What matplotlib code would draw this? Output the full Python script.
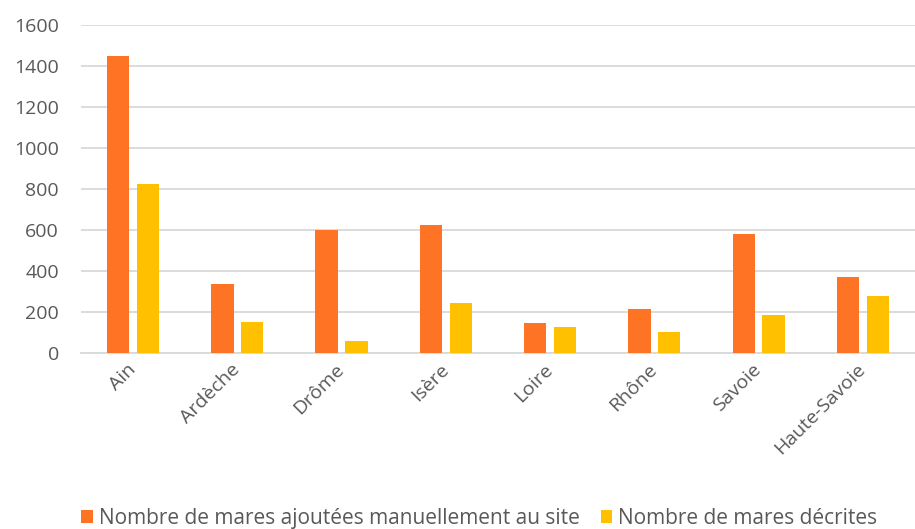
import matplotlib.pyplot as plt
import numpy as np

plt.rcParams['font.family'] = ['Open Sans', 'DejaVu Sans']

departements = ["Ain", "Ardèche", "Drôme", "Isère", "Loire", "Rhône", "Savoie", "Haute-Savoie"]
mares_ajoutees = [1450, 335, 600, 625, 148, 215, 578, 372]
mares_decrites = [825, 150, 60, 245, 128, 100, 187, 275]
serie_noms = ["Nombre de mares ajoutées manuellement au site", "Nombre de mares décrites"]

ORANGE = "#FF7424"
JAUNE = "#FFC000"
GRIS = "#595959"

fig = plt.figure(figsize=(9.15, 5.29), dpi=100)
ax = fig.add_axes([0.0885, 0.333, 0.9115, 0.62])

x = np.arange(len(departements))
w = 0.215
ax.bar(x - 0.143, mares_ajoutees, w, color=ORANGE, label=serie_noms[0], zorder=3)
ax.bar(x + 0.143, mares_decrites, w, color=JAUNE, label=serie_noms[1], zorder=3)

ax.set_xlim(-0.5, len(departements) - 0.5)
ax.set_ylim(0, 1600)
ax.set_yticks(range(0, 1601, 200))
ax.grid(axis='y', color='#d9d9d9', linewidth=1.3, zorder=0)
for s in ['top', 'right', 'left']:
    ax.spines[s].set_visible(False)
ax.spines['bottom'].set_color('#d9d9d9')
ax.spines['bottom'].set_linewidth(1.3)
ax.tick_params(length=0, colors=GRIS, labelsize=14)
ax.tick_params(axis='y', pad=16)
ax.set_xticks(x)
ax.set_xticklabels(departements, rotation=45, ha='right', va='center', rotation_mode='anchor')
ax.tick_params(axis='x', pad=10)

fig.legend(loc='lower center', bbox_to_anchor=(0.524, -0.035), ncol=2, frameon=False,
           handlelength=0.55, handleheight=0.55, handletextpad=0.3, columnspacing=1.0,
           fontsize=15, labelcolor=GRIS)

fig.savefig("out.png", dpi=100)
